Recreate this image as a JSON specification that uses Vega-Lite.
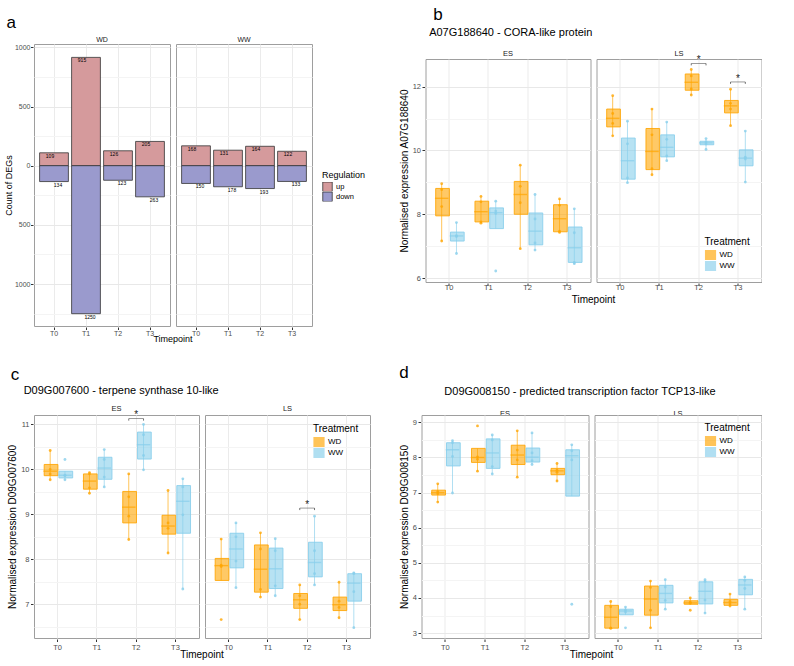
{
"$schema": "https://vega.github.io/schema/vega-lite/v6.json",
"background": "white",
"padding": {"left": 4, "top": 5, "right": 0, "bottom": 0},
"config": {
 "font": "Liberation Sans",
 "view": {"stroke": "#9e9e9e", "strokeWidth": 1},
 "axis": {"labelFontSize": 7.5, "labelColor": "#4d4d4d", "titleFontSize": 10, "titleFontWeight": "normal", "titleColor": "#000000", "tickColor": "#333333", "tickSize": 2.5, "domain": false, "labelPadding": 1.5, "titlePadding": 3, "gridColor": "#ebebeb", "labelOverlap": false},
 "axisX": {"grid": true, "labelAngle": 0},
 "header": {"labelFontSize": 7.5, "labelColor": "#1a1a1a", "labelPadding": 2, "titleFontSize": 10, "titleFontWeight": "normal", "titleColor": "#000000"},
 "legend": {"titleFontWeight": "normal", "titleFontSize": 10, "labelFontSize": 8, "titleColor": "#000000", "labelColor": "#000000", "titlePadding": 3, "labelOffset": 3},
 "title": {"fontWeight": "normal", "anchor": "start", "color": "#000000"}
},
"resolve": {"scale": {"color": "independent", "fill": "independent", "stroke": "independent"}, "legend": {"color": "independent", "fill": "independent", "stroke": "independent"}},
"columns": 2,
"align": {"row": "each", "column": "none"},
"spacing": {"row": 20, "column": 27.5},
"concat": [
 {
  "title": {"text": "a", "fontSize": 17, "offset": 4.5, "dx": 2},
  "hconcat": [{
   "data": {"values": [
    {"Treatment": "WD", "Timepoint": "T0", "Regulation": "up", "count": 109, "label": "109"},
    {"Treatment": "WD", "Timepoint": "T0", "Regulation": "down", "count": -134, "label": "134"},
    {"Treatment": "WD", "Timepoint": "T1", "Regulation": "up", "count": 915, "label": "915"},
    {"Treatment": "WD", "Timepoint": "T1", "Regulation": "down", "count": -1250, "label": "1250"},
    {"Treatment": "WD", "Timepoint": "T2", "Regulation": "up", "count": 126, "label": "126"},
    {"Treatment": "WD", "Timepoint": "T2", "Regulation": "down", "count": -123, "label": "123"},
    {"Treatment": "WD", "Timepoint": "T3", "Regulation": "up", "count": 205, "label": "205"},
    {"Treatment": "WD", "Timepoint": "T3", "Regulation": "down", "count": -263, "label": "263"},
    {"Treatment": "WW", "Timepoint": "T0", "Regulation": "up", "count": 168, "label": "168"},
    {"Treatment": "WW", "Timepoint": "T0", "Regulation": "down", "count": -150, "label": "150"},
    {"Treatment": "WW", "Timepoint": "T1", "Regulation": "up", "count": 131, "label": "131"},
    {"Treatment": "WW", "Timepoint": "T1", "Regulation": "down", "count": -178, "label": "178"},
    {"Treatment": "WW", "Timepoint": "T2", "Regulation": "up", "count": 164, "label": "164"},
    {"Treatment": "WW", "Timepoint": "T2", "Regulation": "down", "count": -193, "label": "193"},
    {"Treatment": "WW", "Timepoint": "T3", "Regulation": "up", "count": 122, "label": "122"},
    {"Treatment": "WW", "Timepoint": "T3", "Regulation": "down", "count": -133, "label": "133"}
   ]},
   "facet": {"column": {"field": "Treatment", "type": "nominal", "title": "Timepoint", "header": {"titleOrient": "bottom", "labelOrient": "top", "titleFontSize": 9, "labelFontSize": 7, "titlePadding": -12, "labelPadding": 0}}},
   "spacing": 4,
   "spec": {
    "width": 136, "height": 282,
    "layer": [
     {"mark": {"type": "bar", "stroke": "#333333", "strokeWidth": 0.8},
      "encoding": {
       "x": {"field": "Timepoint", "type": "nominal", "scale": {"paddingInner": 0.1, "paddingOuter": 0.175}, "axis": {"title": null, "labelFontSize": 7, "labelPadding": 0}},
       "y": {"field": "count", "type": "quantitative", "scale": {"domain": [-1354, 1028], "nice": false}, "axis": {"title": "Count of DEGs", "titleFontSize": 9, "labelFontSize": 7, "titlePadding": 1, "labelPadding": 0.5, "labelOverlap": false, "tickCount": 100, "values": [-1250, -1000, -750, -500, -250, 0, 250, 500, 750, 1000], "labelExpr": "datum.value % 500 === 0 ? format(abs(datum.value), 'd') : ''", "gridColor": {"condition": {"test": "datum.value % 500 !== 0", "value": "#f4f4f4"}, "value": "#e8e8e8"}, "tickColor": {"condition": {"test": "datum.value % 500 !== 0", "value": "transparent"}, "value": "#333333"}}},
       "y2": {"datum": 0},
       "color": {"field": "Regulation", "type": "nominal", "scale": {"domain": ["up", "down"], "range": ["#d59a9c", "#9a9acd"]}, "legend": {"title": "Regulation", "orient": "none", "legendX": 288, "legendY": 127, "titleFontSize": 9, "labelFontSize": 7.5, "symbolType": "square", "symbolSize": 90, "clipHeight": 9.5, "symbolStrokeColor": "#333333", "symbolStrokeWidth": 0.8, "rowPadding": 0, "titlePadding": 2}}
      }},
     {"transform": [{"filter": "datum.Regulation == 'up'"}],
      "mark": {"type": "text", "fontSize": 5, "dx": -4, "baseline": "top", "dy": 1, "color": "#000000"},
      "encoding": {
       "x": {"field": "Timepoint", "type": "nominal"},
       "y": {"field": "count", "type": "quantitative"},
       "text": {"field": "label"}
      }},
     {"transform": [{"filter": "datum.Regulation == 'down'"}],
      "mark": {"type": "text", "fontSize": 5, "dx": 4, "baseline": "top", "dy": 1, "color": "#000000"},
      "encoding": {
       "x": {"field": "Timepoint", "type": "nominal"},
       "y": {"field": "count", "type": "quantitative"},
       "text": {"field": "label"}
      }}
    ]
   }
  }]
 },
 {
  "title": {"text": "b", "fontSize": 17, "offset": 3.5, "dx": 34},
  "hconcat": [{
   "title": {"text": "A07G188640 - CORA-like protein", "fontSize": 11, "offset": 0.5, "dx": 30},
   "spacing": 0,
   "vconcat": [
    {"data": {"values": [{"z": 0}]}, "width": 10, "height": 1, "mark": {"type": "text", "text": ""}, "encoding": {}, "view": {"stroke": null}},
    {
   "data": {"values": [
    {"kind": "box", "Stage": "ES", "Timepoint": "T0", "Treatment": "WD", "lower": 7.16, "q1": 7.95, "median": 8.5, "q3": 8.81, "upper": 8.96},
    {"kind": "box", "Stage": "ES", "Timepoint": "T0", "Treatment": "WW", "lower": 6.77, "q1": 7.16, "median": 7.32, "q3": 7.44, "upper": 7.74},
    {"kind": "box", "Stage": "ES", "Timepoint": "T1", "Treatment": "WD", "lower": 7.72, "q1": 7.76, "median": 8.08, "q3": 8.41, "upper": 8.56},
    {"kind": "box", "Stage": "ES", "Timepoint": "T1", "Treatment": "WW", "lower": 7.55, "q1": 7.55, "median": 8.05, "q3": 8.2, "upper": 8.41},
    {"kind": "box", "Stage": "ES", "Timepoint": "T2", "Treatment": "WD", "lower": 6.92, "q1": 8.0, "median": 8.62, "q3": 9.03, "upper": 9.54},
    {"kind": "box", "Stage": "ES", "Timepoint": "T2", "Treatment": "WW", "lower": 6.875, "q1": 7.04, "median": 7.47, "q3": 8.04, "upper": 8.62},
    {"kind": "box", "Stage": "ES", "Timepoint": "T3", "Treatment": "WD", "lower": 7.43, "q1": 7.45, "median": 7.86, "q3": 8.3, "upper": 8.48},
    {"kind": "box", "Stage": "ES", "Timepoint": "T3", "Treatment": "WW", "lower": 6.45, "q1": 6.49, "median": 6.95, "q3": 7.6, "upper": 8.17},
    {"kind": "box", "Stage": "LS", "Timepoint": "T0", "Treatment": "WD", "lower": 10.46, "q1": 10.74, "median": 11.01, "q3": 11.3, "upper": 11.72},
    {"kind": "box", "Stage": "LS", "Timepoint": "T0", "Treatment": "WW", "lower": 8.99, "q1": 9.1, "median": 9.68, "q3": 10.39, "upper": 10.92},
    {"kind": "box", "Stage": "LS", "Timepoint": "T1", "Treatment": "WD", "lower": 9.24, "q1": 9.4, "median": 9.97, "q3": 10.69, "upper": 11.3},
    {"kind": "box", "Stage": "LS", "Timepoint": "T1", "Treatment": "WW", "lower": 9.68, "q1": 9.8, "median": 10.1, "q3": 10.49, "upper": 10.89},
    {"kind": "box", "Stage": "LS", "Timepoint": "T2", "Treatment": "WD", "lower": 11.74, "q1": 11.89, "median": 12.14, "q3": 12.4, "upper": 12.54},
    {"kind": "box", "Stage": "LS", "Timepoint": "T2", "Treatment": "WW", "lower": 10.03, "q1": 10.18, "median": 10.24, "q3": 10.29, "upper": 10.375},
    {"kind": "box", "Stage": "LS", "Timepoint": "T3", "Treatment": "WD", "lower": 10.78, "q1": 11.18, "median": 11.4, "q3": 11.57, "upper": 11.92},
    {"kind": "box", "Stage": "LS", "Timepoint": "T3", "Treatment": "WW", "lower": 9.01, "q1": 9.52, "median": 9.76, "q3": 10.02, "upper": 10.61},
    {"kind": "pt", "Stage": "ES", "Timepoint": "T0", "Treatment": "WD", "value": 8.96},
    {"kind": "pt", "Stage": "ES", "Timepoint": "T0", "Treatment": "WD", "value": 8.77},
    {"kind": "pt", "Stage": "ES", "Timepoint": "T0", "Treatment": "WD", "value": 8.24},
    {"kind": "pt", "Stage": "ES", "Timepoint": "T0", "Treatment": "WD", "value": 7.16},
    {"kind": "pt", "Stage": "ES", "Timepoint": "T0", "Treatment": "WW", "value": 7.74},
    {"kind": "pt", "Stage": "ES", "Timepoint": "T0", "Treatment": "WW", "value": 7.33},
    {"kind": "pt", "Stage": "ES", "Timepoint": "T0", "Treatment": "WW", "value": 7.3},
    {"kind": "pt", "Stage": "ES", "Timepoint": "T0", "Treatment": "WW", "value": 6.77},
    {"kind": "pt", "Stage": "ES", "Timepoint": "T1", "Treatment": "WD", "value": 8.56},
    {"kind": "pt", "Stage": "ES", "Timepoint": "T1", "Treatment": "WD", "value": 8.39},
    {"kind": "pt", "Stage": "ES", "Timepoint": "T1", "Treatment": "WD", "value": 7.76},
    {"kind": "pt", "Stage": "ES", "Timepoint": "T1", "Treatment": "WD", "value": 7.72},
    {"kind": "pt", "Stage": "ES", "Timepoint": "T1", "Treatment": "WW", "value": 8.41},
    {"kind": "pt", "Stage": "ES", "Timepoint": "T1", "Treatment": "WW", "value": 8.1},
    {"kind": "pt", "Stage": "ES", "Timepoint": "T1", "Treatment": "WW", "value": 8.02},
    {"kind": "pt", "Stage": "ES", "Timepoint": "T1", "Treatment": "WW", "value": 6.22},
    {"kind": "pt", "Stage": "ES", "Timepoint": "T2", "Treatment": "WD", "value": 9.54},
    {"kind": "pt", "Stage": "ES", "Timepoint": "T2", "Treatment": "WD", "value": 8.875},
    {"kind": "pt", "Stage": "ES", "Timepoint": "T2", "Treatment": "WD", "value": 8.36},
    {"kind": "pt", "Stage": "ES", "Timepoint": "T2", "Treatment": "WD", "value": 6.92},
    {"kind": "pt", "Stage": "ES", "Timepoint": "T2", "Treatment": "WW", "value": 8.62},
    {"kind": "pt", "Stage": "ES", "Timepoint": "T2", "Treatment": "WW", "value": 7.85},
    {"kind": "pt", "Stage": "ES", "Timepoint": "T2", "Treatment": "WW", "value": 7.1},
    {"kind": "pt", "Stage": "ES", "Timepoint": "T2", "Treatment": "WW", "value": 6.875},
    {"kind": "pt", "Stage": "ES", "Timepoint": "T3", "Treatment": "WD", "value": 8.48},
    {"kind": "pt", "Stage": "ES", "Timepoint": "T3", "Treatment": "WD", "value": 8.28},
    {"kind": "pt", "Stage": "ES", "Timepoint": "T3", "Treatment": "WD", "value": 7.47},
    {"kind": "pt", "Stage": "ES", "Timepoint": "T3", "Treatment": "WD", "value": 7.43},
    {"kind": "pt", "Stage": "ES", "Timepoint": "T3", "Treatment": "WW", "value": 8.17},
    {"kind": "pt", "Stage": "ES", "Timepoint": "T3", "Treatment": "WW", "value": 7.42},
    {"kind": "pt", "Stage": "ES", "Timepoint": "T3", "Treatment": "WW", "value": 6.49},
    {"kind": "pt", "Stage": "ES", "Timepoint": "T3", "Treatment": "WW", "value": 6.45},
    {"kind": "pt", "Stage": "LS", "Timepoint": "T0", "Treatment": "WD", "value": 11.72},
    {"kind": "pt", "Stage": "LS", "Timepoint": "T0", "Treatment": "WD", "value": 11.16},
    {"kind": "pt", "Stage": "LS", "Timepoint": "T0", "Treatment": "WD", "value": 10.85},
    {"kind": "pt", "Stage": "LS", "Timepoint": "T0", "Treatment": "WD", "value": 10.46},
    {"kind": "pt", "Stage": "LS", "Timepoint": "T0", "Treatment": "WW", "value": 10.92},
    {"kind": "pt", "Stage": "LS", "Timepoint": "T0", "Treatment": "WW", "value": 10.21},
    {"kind": "pt", "Stage": "LS", "Timepoint": "T0", "Treatment": "WW", "value": 9.14},
    {"kind": "pt", "Stage": "LS", "Timepoint": "T0", "Treatment": "WW", "value": 8.99},
    {"kind": "pt", "Stage": "LS", "Timepoint": "T1", "Treatment": "WD", "value": 11.3},
    {"kind": "pt", "Stage": "LS", "Timepoint": "T1", "Treatment": "WD", "value": 10.49},
    {"kind": "pt", "Stage": "LS", "Timepoint": "T1", "Treatment": "WD", "value": 9.43},
    {"kind": "pt", "Stage": "LS", "Timepoint": "T1", "Treatment": "WD", "value": 9.24},
    {"kind": "pt", "Stage": "LS", "Timepoint": "T1", "Treatment": "WW", "value": 10.89},
    {"kind": "pt", "Stage": "LS", "Timepoint": "T1", "Treatment": "WW", "value": 10.35},
    {"kind": "pt", "Stage": "LS", "Timepoint": "T1", "Treatment": "WW", "value": 9.83},
    {"kind": "pt", "Stage": "LS", "Timepoint": "T1", "Treatment": "WW", "value": 9.68},
    {"kind": "pt", "Stage": "LS", "Timepoint": "T2", "Treatment": "WD", "value": 12.54},
    {"kind": "pt", "Stage": "LS", "Timepoint": "T2", "Treatment": "WD", "value": 12.34},
    {"kind": "pt", "Stage": "LS", "Timepoint": "T2", "Treatment": "WD", "value": 11.93},
    {"kind": "pt", "Stage": "LS", "Timepoint": "T2", "Treatment": "WD", "value": 11.74},
    {"kind": "pt", "Stage": "LS", "Timepoint": "T2", "Treatment": "WW", "value": 10.375},
    {"kind": "pt", "Stage": "LS", "Timepoint": "T2", "Treatment": "WW", "value": 10.27},
    {"kind": "pt", "Stage": "LS", "Timepoint": "T2", "Treatment": "WW", "value": 10.2},
    {"kind": "pt", "Stage": "LS", "Timepoint": "T2", "Treatment": "WW", "value": 10.03},
    {"kind": "pt", "Stage": "LS", "Timepoint": "T3", "Treatment": "WD", "value": 11.92},
    {"kind": "pt", "Stage": "LS", "Timepoint": "T3", "Treatment": "WD", "value": 11.48},
    {"kind": "pt", "Stage": "LS", "Timepoint": "T3", "Treatment": "WD", "value": 11.3},
    {"kind": "pt", "Stage": "LS", "Timepoint": "T3", "Treatment": "WD", "value": 10.78},
    {"kind": "pt", "Stage": "LS", "Timepoint": "T3", "Treatment": "WW", "value": 10.61},
    {"kind": "pt", "Stage": "LS", "Timepoint": "T3", "Treatment": "WW", "value": 9.79},
    {"kind": "pt", "Stage": "LS", "Timepoint": "T3", "Treatment": "WW", "value": 9.73},
    {"kind": "pt", "Stage": "LS", "Timepoint": "T3", "Treatment": "WW", "value": 9.01},
    {"kind": "sig", "Stage": "LS", "Timepoint": "T2", "y": 12.73, "star": 12.83},
    {"kind": "sig", "Stage": "LS", "Timepoint": "T3", "y": 12.15, "star": 12.25},
    {"kind": "sigend", "Stage": "LS", "Timepoint": "T2", "Treatment": "WD", "y": 12.73, "y2": 12.67},
    {"kind": "sigend", "Stage": "LS", "Timepoint": "T2", "Treatment": "WW", "y": 12.73, "y2": 12.67},
    {"kind": "sigend", "Stage": "LS", "Timepoint": "T3", "Treatment": "WD", "y": 12.15, "y2": 12.09},
    {"kind": "sigend", "Stage": "LS", "Timepoint": "T3", "Treatment": "WW", "y": 12.15, "y2": 12.09}
   ]},
   "facet": {"column": {"field": "Stage", "type": "nominal", "title": "Timepoint", "header": {"titleOrient": "bottom", "labelOrient": "top", "titlePadding": -6.5, "labelPadding": -3.5}}},
   "spacing": 4,
   "spec": {
    "width": 165, "height": 223,
    "encoding": {"x": {"field": "Timepoint", "type": "nominal", "scale": {"paddingInner": 0, "paddingOuter": 0.1}, "axis": {"title": null, "labelPadding": -2}}},
    "layer": [
     {"transform": [{"filter": "datum.kind == 'box'"}],
      "mark": {"type": "rule", "strokeWidth": 1, "opacity": 0.65},
      "encoding": {
       "xOffset": {"field": "Treatment", "type": "nominal", "scale": {"paddingInner": 0, "paddingOuter": 0.33}},
       "y": {"field": "lower", "type": "quantitative", "title": "Normalised expression A07G188640", "scale": {"domain": [5.875, 12.87], "nice": false, "zero": false}, "axis": {"labelOverlap": false, "tickCount": 100, "values": [6, 7, 8, 9, 10, 11, 12], "labelExpr": "datum.value % 2 === 0 ? format(datum.value, 'd') : ''", "gridColor": {"condition": {"test": "datum.value % 2 !== 0", "value": "#f4f4f4"}, "value": "#e8e8e8"}, "tickColor": {"condition": {"test": "datum.value % 2 !== 0", "value": "transparent"}, "value": "#333333"}}},
       "y2": {"field": "upper"},
       "stroke": {"field": "Treatment", "type": "nominal", "scale": {"domain": ["WD", "WW"], "range": ["#FFA500", "#87CEEB"]}}
      }},
     {"transform": [{"filter": "datum.kind == 'box'"}],
      "mark": {"type": "bar", "fillOpacity": 0.6, "strokeWidth": 1, "strokeOpacity": 0.85, "width": {"band": 0.93}},
      "encoding": {
       "xOffset": {"field": "Treatment", "type": "nominal"},
       "y": {"field": "q1", "type": "quantitative", "title": "Normalised expression A07G188640", "scale": {"domain": [5.875, 12.87], "nice": false, "zero": false}},
       "y2": {"field": "q3"},
       "fill": {"field": "Treatment", "type": "nominal", "scale": {"domain": ["WD", "WW"], "range": ["#FFA500", "#87CEEB"]}, "legend": {"title": "Treatment", "orient": "none", "legendX": 279, "legendY": 193, "symbolType": "square", "symbolSize": 100, "clipHeight": 10, "symbolStrokeWidth": 1.2, "rowPadding": 1}},
       "stroke": {"field": "Treatment", "type": "nominal", "legend": {"title": "Treatment", "orient": "none", "legendX": 279, "legendY": 193, "symbolType": "square", "symbolSize": 100, "clipHeight": 10, "symbolStrokeWidth": 1.2, "rowPadding": 1}}
      }},
     {"transform": [{"filter": "datum.kind == 'box'"}],
      "mark": {"type": "tick", "orient": "horizontal", "size": 13.5, "thickness": 1.4},
      "encoding": {
       "xOffset": {"field": "Treatment", "type": "nominal"},
       "y": {"field": "median", "type": "quantitative", "title": "Normalised expression A07G188640", "scale": {"domain": [5.875, 12.87], "nice": false, "zero": false}},
       "fill": {"field": "Treatment", "type": "nominal"}
      }},
     {"transform": [{"filter": "datum.kind == 'pt'"}],
      "mark": {"type": "circle", "size": 8, "opacity": 0.8},
      "encoding": {
       "xOffset": {"field": "Treatment", "type": "nominal"},
       "y": {"field": "value", "type": "quantitative", "title": "Normalised expression A07G188640", "scale": {"domain": [5.875, 12.87], "nice": false, "zero": false}},
       "fill": {"field": "Treatment", "type": "nominal"}
      }},
     {"transform": [{"filter": "datum.kind == 'sig'"}],
      "mark": {"type": "tick", "orient": "horizontal", "size": 14.6, "thickness": 0.7, "color": "#333333"},
      "encoding": {
       "y": {"field": "y", "type": "quantitative", "title": "Normalised expression A07G188640", "scale": {"domain": [5.875, 12.87], "nice": false, "zero": false}}
      }},
     {"transform": [{"filter": "datum.kind == 'sigend'"}],
      "mark": {"type": "rule", "strokeWidth": 0.7, "color": "#333333"},
      "encoding": {
       "xOffset": {"field": "Treatment", "type": "nominal"},
       "y": {"field": "y", "type": "quantitative", "title": "Normalised expression A07G188640", "scale": {"domain": [5.875, 12.87], "nice": false, "zero": false}},
       "y2": {"field": "y2"}
      }},
     {"transform": [{"filter": "datum.kind == 'sig'"}],
      "mark": {"type": "text", "text": "*", "fontSize": 10, "baseline": "middle", "color": "#222222"},
      "encoding": {
       "y": {"field": "star", "type": "quantitative", "title": "Normalised expression A07G188640", "scale": {"domain": [5.875, 12.87], "nice": false, "zero": false}}
      }}
    ]
   }
  }
   ]
  }]
 },
 {
  "title": {"text": "c", "fontSize": 17, "offset": 1, "dx": 3},
  "hconcat": [{
   "title": {"text": "D09G007600 - terpene synthase 10-like", "fontSize": 11, "offset": 9, "dx": 16},
   "data": {"values": [
    {"kind": "box", "Stage": "ES", "Timepoint": "T0", "Treatment": "WD", "lower": 9.77, "q1": 9.86, "median": 9.96, "q3": 10.11, "upper": 10.42},
    {"kind": "box", "Stage": "ES", "Timepoint": "T0", "Treatment": "WW", "lower": 9.77, "q1": 9.81, "median": 9.87, "q3": 9.96, "upper": 9.96},
    {"kind": "box", "Stage": "ES", "Timepoint": "T1", "Treatment": "WD", "lower": 9.47, "q1": 9.56, "median": 9.74, "q3": 9.9, "upper": 9.93},
    {"kind": "box", "Stage": "ES", "Timepoint": "T1", "Treatment": "WW", "lower": 9.61, "q1": 9.78, "median": 10.03, "q3": 10.27, "upper": 10.44},
    {"kind": "box", "Stage": "ES", "Timepoint": "T2", "Treatment": "WD", "lower": 8.44, "q1": 8.81, "median": 9.16, "q3": 9.51, "upper": 9.9},
    {"kind": "box", "Stage": "ES", "Timepoint": "T2", "Treatment": "WW", "lower": 9.99, "q1": 10.23, "median": 10.55, "q3": 10.83, "upper": 11.0},
    {"kind": "box", "Stage": "ES", "Timepoint": "T3", "Treatment": "WD", "lower": 8.14, "q1": 8.56, "median": 8.74, "q3": 8.98, "upper": 9.53},
    {"kind": "box", "Stage": "ES", "Timepoint": "T3", "Treatment": "WW", "lower": 7.34, "q1": 8.58, "median": 9.29, "q3": 9.64, "upper": 9.79},
    {"kind": "box", "Stage": "LS", "Timepoint": "T0", "Treatment": "WD", "lower": 7.53, "q1": 7.53, "median": 7.86, "q3": 8.02, "upper": 8.45},
    {"kind": "box", "Stage": "LS", "Timepoint": "T0", "Treatment": "WW", "lower": 7.37, "q1": 7.81, "median": 8.23, "q3": 8.58, "upper": 8.81},
    {"kind": "box", "Stage": "LS", "Timepoint": "T1", "Treatment": "WD", "lower": 7.16, "q1": 7.27, "median": 7.78, "q3": 8.32, "upper": 8.59},
    {"kind": "box", "Stage": "LS", "Timepoint": "T1", "Treatment": "WW", "lower": 7.19, "q1": 7.35, "median": 7.79, "q3": 8.25, "upper": 8.46},
    {"kind": "box", "Stage": "LS", "Timepoint": "T2", "Treatment": "WD", "lower": 6.66, "q1": 6.91, "median": 7.1, "q3": 7.24, "upper": 7.43},
    {"kind": "box", "Stage": "LS", "Timepoint": "T2", "Treatment": "WW", "lower": 7.43, "q1": 7.61, "median": 7.93, "q3": 8.38, "upper": 8.96},
    {"kind": "box", "Stage": "LS", "Timepoint": "T3", "Treatment": "WD", "lower": 6.7, "q1": 6.86, "median": 6.99, "q3": 7.16, "upper": 7.49},
    {"kind": "box", "Stage": "LS", "Timepoint": "T3", "Treatment": "WW", "lower": 6.48, "q1": 7.07, "median": 7.47, "q3": 7.68, "upper": 7.7},
    {"kind": "pt", "Stage": "ES", "Timepoint": "T0", "Treatment": "WD", "value": 10.42},
    {"kind": "pt", "Stage": "ES", "Timepoint": "T0", "Treatment": "WD", "value": 10.0},
    {"kind": "pt", "Stage": "ES", "Timepoint": "T0", "Treatment": "WD", "value": 9.9},
    {"kind": "pt", "Stage": "ES", "Timepoint": "T0", "Treatment": "WD", "value": 9.77},
    {"kind": "pt", "Stage": "ES", "Timepoint": "T0", "Treatment": "WW", "value": 10.22},
    {"kind": "pt", "Stage": "ES", "Timepoint": "T0", "Treatment": "WW", "value": 9.87},
    {"kind": "pt", "Stage": "ES", "Timepoint": "T0", "Treatment": "WW", "value": 9.86},
    {"kind": "pt", "Stage": "ES", "Timepoint": "T0", "Treatment": "WW", "value": 9.77},
    {"kind": "pt", "Stage": "ES", "Timepoint": "T1", "Treatment": "WD", "value": 9.93},
    {"kind": "pt", "Stage": "ES", "Timepoint": "T1", "Treatment": "WD", "value": 9.9},
    {"kind": "pt", "Stage": "ES", "Timepoint": "T1", "Treatment": "WD", "value": 9.59},
    {"kind": "pt", "Stage": "ES", "Timepoint": "T1", "Treatment": "WD", "value": 9.47},
    {"kind": "pt", "Stage": "ES", "Timepoint": "T1", "Treatment": "WW", "value": 10.44},
    {"kind": "pt", "Stage": "ES", "Timepoint": "T1", "Treatment": "WW", "value": 10.22},
    {"kind": "pt", "Stage": "ES", "Timepoint": "T1", "Treatment": "WW", "value": 9.83},
    {"kind": "pt", "Stage": "ES", "Timepoint": "T1", "Treatment": "WW", "value": 9.61},
    {"kind": "pt", "Stage": "ES", "Timepoint": "T2", "Treatment": "WD", "value": 9.9},
    {"kind": "pt", "Stage": "ES", "Timepoint": "T2", "Treatment": "WD", "value": 9.39},
    {"kind": "pt", "Stage": "ES", "Timepoint": "T2", "Treatment": "WD", "value": 8.96},
    {"kind": "pt", "Stage": "ES", "Timepoint": "T2", "Treatment": "WD", "value": 8.44},
    {"kind": "pt", "Stage": "ES", "Timepoint": "T2", "Treatment": "WW", "value": 11.0},
    {"kind": "pt", "Stage": "ES", "Timepoint": "T2", "Treatment": "WW", "value": 10.77},
    {"kind": "pt", "Stage": "ES", "Timepoint": "T2", "Treatment": "WW", "value": 10.31},
    {"kind": "pt", "Stage": "ES", "Timepoint": "T2", "Treatment": "WW", "value": 9.99},
    {"kind": "pt", "Stage": "ES", "Timepoint": "T3", "Treatment": "WD", "value": 9.53},
    {"kind": "pt", "Stage": "ES", "Timepoint": "T3", "Treatment": "WD", "value": 8.81},
    {"kind": "pt", "Stage": "ES", "Timepoint": "T3", "Treatment": "WD", "value": 8.69},
    {"kind": "pt", "Stage": "ES", "Timepoint": "T3", "Treatment": "WD", "value": 8.14},
    {"kind": "pt", "Stage": "ES", "Timepoint": "T3", "Treatment": "WW", "value": 9.79},
    {"kind": "pt", "Stage": "ES", "Timepoint": "T3", "Treatment": "WW", "value": 9.61},
    {"kind": "pt", "Stage": "ES", "Timepoint": "T3", "Treatment": "WW", "value": 8.99},
    {"kind": "pt", "Stage": "ES", "Timepoint": "T3", "Treatment": "WW", "value": 7.34},
    {"kind": "pt", "Stage": "LS", "Timepoint": "T0", "Treatment": "WD", "value": 8.45},
    {"kind": "pt", "Stage": "LS", "Timepoint": "T0", "Treatment": "WD", "value": 7.87},
    {"kind": "pt", "Stage": "LS", "Timepoint": "T0", "Treatment": "WD", "value": 7.84},
    {"kind": "pt", "Stage": "LS", "Timepoint": "T0", "Treatment": "WD", "value": 6.66},
    {"kind": "pt", "Stage": "LS", "Timepoint": "T0", "Treatment": "WW", "value": 8.81},
    {"kind": "pt", "Stage": "LS", "Timepoint": "T0", "Treatment": "WW", "value": 8.5},
    {"kind": "pt", "Stage": "LS", "Timepoint": "T0", "Treatment": "WW", "value": 7.96},
    {"kind": "pt", "Stage": "LS", "Timepoint": "T0", "Treatment": "WW", "value": 7.37},
    {"kind": "pt", "Stage": "LS", "Timepoint": "T1", "Treatment": "WD", "value": 8.59},
    {"kind": "pt", "Stage": "LS", "Timepoint": "T1", "Treatment": "WD", "value": 8.23},
    {"kind": "pt", "Stage": "LS", "Timepoint": "T1", "Treatment": "WD", "value": 7.33},
    {"kind": "pt", "Stage": "LS", "Timepoint": "T1", "Treatment": "WD", "value": 7.16},
    {"kind": "pt", "Stage": "LS", "Timepoint": "T1", "Treatment": "WW", "value": 8.46},
    {"kind": "pt", "Stage": "LS", "Timepoint": "T1", "Treatment": "WW", "value": 8.19},
    {"kind": "pt", "Stage": "LS", "Timepoint": "T1", "Treatment": "WW", "value": 7.41},
    {"kind": "pt", "Stage": "LS", "Timepoint": "T1", "Treatment": "WW", "value": 7.19},
    {"kind": "pt", "Stage": "LS", "Timepoint": "T2", "Treatment": "WD", "value": 7.43},
    {"kind": "pt", "Stage": "LS", "Timepoint": "T2", "Treatment": "WD", "value": 7.19},
    {"kind": "pt", "Stage": "LS", "Timepoint": "T2", "Treatment": "WD", "value": 7.0},
    {"kind": "pt", "Stage": "LS", "Timepoint": "T2", "Treatment": "WD", "value": 6.66},
    {"kind": "pt", "Stage": "LS", "Timepoint": "T2", "Treatment": "WW", "value": 8.96},
    {"kind": "pt", "Stage": "LS", "Timepoint": "T2", "Treatment": "WW", "value": 8.19},
    {"kind": "pt", "Stage": "LS", "Timepoint": "T2", "Treatment": "WW", "value": 7.68},
    {"kind": "pt", "Stage": "LS", "Timepoint": "T2", "Treatment": "WW", "value": 7.43},
    {"kind": "pt", "Stage": "LS", "Timepoint": "T3", "Treatment": "WD", "value": 7.49},
    {"kind": "pt", "Stage": "LS", "Timepoint": "T3", "Treatment": "WD", "value": 7.07},
    {"kind": "pt", "Stage": "LS", "Timepoint": "T3", "Treatment": "WD", "value": 6.93},
    {"kind": "pt", "Stage": "LS", "Timepoint": "T3", "Treatment": "WD", "value": 6.7},
    {"kind": "pt", "Stage": "LS", "Timepoint": "T3", "Treatment": "WW", "value": 7.7},
    {"kind": "pt", "Stage": "LS", "Timepoint": "T3", "Treatment": "WW", "value": 7.68},
    {"kind": "pt", "Stage": "LS", "Timepoint": "T3", "Treatment": "WW", "value": 7.28},
    {"kind": "pt", "Stage": "LS", "Timepoint": "T3", "Treatment": "WW", "value": 6.48},
    {"kind": "sig", "Stage": "ES", "Timepoint": "T2", "y": 11.13, "star": 11.2},
    {"kind": "sig", "Stage": "LS", "Timepoint": "T2", "y": 9.14, "star": 9.21},
    {"kind": "sigend", "Stage": "ES", "Timepoint": "T2", "Treatment": "WD", "y": 11.13, "y2": 11.085},
    {"kind": "sigend", "Stage": "ES", "Timepoint": "T2", "Treatment": "WW", "y": 11.13, "y2": 11.085},
    {"kind": "sigend", "Stage": "LS", "Timepoint": "T2", "Treatment": "WD", "y": 9.14, "y2": 9.095},
    {"kind": "sigend", "Stage": "LS", "Timepoint": "T2", "Treatment": "WW", "y": 9.14, "y2": 9.095}
   ]},
   "facet": {"column": {"field": "Stage", "type": "nominal", "title": "Timepoint", "header": {"titleOrient": "bottom", "labelOrient": "top", "titlePadding": -11, "labelPadding": -3.5}}},
   "spacing": 4,
   "spec": {
    "width": 165, "height": 223,
    "encoding": {"x": {"field": "Timepoint", "type": "nominal", "scale": {"paddingInner": 0, "paddingOuter": 0.1}, "axis": {"title": null}}},
    "layer": [
     {"transform": [{"filter": "datum.kind == 'box'"}],
      "mark": {"type": "rule", "strokeWidth": 1, "opacity": 0.65},
      "encoding": {
       "xOffset": {"field": "Treatment", "type": "nominal", "scale": {"paddingInner": 0, "paddingOuter": 0.33}},
       "y": {"field": "lower", "type": "quantitative", "title": "Normalised expression D09G007600", "scale": {"domain": [6.25, 11.21], "nice": false, "zero": false}, "axis": {"labelOverlap": false, "tickCount": 100, "values": [6.5, 7, 7.5, 8, 8.5, 9, 9.5, 10, 10.5, 11], "labelExpr": "datum.value % 1 === 0 ? format(datum.value, 'd') : ''", "gridColor": {"condition": {"test": "datum.value % 1 !== 0", "value": "#f4f4f4"}, "value": "#e8e8e8"}, "tickColor": {"condition": {"test": "datum.value % 1 !== 0", "value": "transparent"}, "value": "#333333"}}},
       "y2": {"field": "upper"},
       "stroke": {"field": "Treatment", "type": "nominal", "scale": {"domain": ["WD", "WW"], "range": ["#FFA500", "#87CEEB"]}}
      }},
     {"transform": [{"filter": "datum.kind == 'box'"}],
      "mark": {"type": "bar", "fillOpacity": 0.6, "strokeWidth": 1, "strokeOpacity": 0.85, "width": {"band": 0.93}},
      "encoding": {
       "xOffset": {"field": "Treatment", "type": "nominal"},
       "y": {"field": "q1", "type": "quantitative", "title": "Normalised expression D09G007600", "scale": {"domain": [6.25, 11.21], "nice": false, "zero": false}},
       "y2": {"field": "q3"},
       "fill": {"field": "Treatment", "type": "nominal", "scale": {"domain": ["WD", "WW"], "range": ["#FFA500", "#87CEEB"]}, "legend": {"title": "Treatment", "orient": "none", "legendX": 279, "legendY": 9, "symbolType": "square", "symbolSize": 100, "clipHeight": 10, "symbolStrokeWidth": 1.2, "rowPadding": 1}},
       "stroke": {"field": "Treatment", "type": "nominal", "legend": {"title": "Treatment", "orient": "none", "legendX": 279, "legendY": 9, "symbolType": "square", "symbolSize": 100, "clipHeight": 10, "symbolStrokeWidth": 1.2, "rowPadding": 1}}
      }},
     {"transform": [{"filter": "datum.kind == 'box'"}],
      "mark": {"type": "tick", "orient": "horizontal", "size": 13.5, "thickness": 1.4},
      "encoding": {
       "xOffset": {"field": "Treatment", "type": "nominal"},
       "y": {"field": "median", "type": "quantitative", "title": "Normalised expression D09G007600", "scale": {"domain": [6.25, 11.21], "nice": false, "zero": false}},
       "fill": {"field": "Treatment", "type": "nominal"}
      }},
     {"transform": [{"filter": "datum.kind == 'pt'"}],
      "mark": {"type": "circle", "size": 8, "opacity": 0.8},
      "encoding": {
       "xOffset": {"field": "Treatment", "type": "nominal"},
       "y": {"field": "value", "type": "quantitative", "title": "Normalised expression D09G007600", "scale": {"domain": [6.25, 11.21], "nice": false, "zero": false}},
       "fill": {"field": "Treatment", "type": "nominal"}
      }},
     {"transform": [{"filter": "datum.kind == 'sig'"}],
      "mark": {"type": "tick", "orient": "horizontal", "size": 14.6, "thickness": 0.7, "color": "#333333"},
      "encoding": {
       "y": {"field": "y", "type": "quantitative", "title": "Normalised expression D09G007600", "scale": {"domain": [6.25, 11.21], "nice": false, "zero": false}}
      }},
     {"transform": [{"filter": "datum.kind == 'sigend'"}],
      "mark": {"type": "rule", "strokeWidth": 0.7, "color": "#333333"},
      "encoding": {
       "xOffset": {"field": "Treatment", "type": "nominal"},
       "y": {"field": "y", "type": "quantitative", "title": "Normalised expression D09G007600", "scale": {"domain": [6.25, 11.21], "nice": false, "zero": false}},
       "y2": {"field": "y2"}
      }},
     {"transform": [{"filter": "datum.kind == 'sig'"}],
      "mark": {"type": "text", "text": "*", "fontSize": 10, "baseline": "middle", "color": "#222222"},
      "encoding": {
       "y": {"field": "star", "type": "quantitative", "title": "Normalised expression D09G007600", "scale": {"domain": [6.25, 11.21], "nice": false, "zero": false}}
      }}
    ]
   }
  }]
 },
 {
  "title": {"text": "d", "fontSize": 17, "offset": 4, "dx": 0},
  "hconcat": [{
   "title": {"text": "D09G008150 - predicted transcription factor TCP13-like", "fontSize": 11, "offset": 13, "dx": 45},
   "data": {"values": [
    {"kind": "box", "Stage": "ES", "Timepoint": "T0", "Treatment": "WD", "lower": 6.73, "q1": 6.93, "median": 7.0, "q3": 7.07, "upper": 7.25},
    {"kind": "box", "Stage": "ES", "Timepoint": "T0", "Treatment": "WW", "lower": 6.99, "q1": 7.76, "median": 8.22, "q3": 8.42, "upper": 8.48},
    {"kind": "box", "Stage": "ES", "Timepoint": "T1", "Treatment": "WD", "lower": 7.61, "q1": 7.86, "median": 8.0, "q3": 8.26, "upper": 8.26},
    {"kind": "box", "Stage": "ES", "Timepoint": "T1", "Treatment": "WW", "lower": 7.53, "q1": 7.69, "median": 8.13, "q3": 8.53, "upper": 8.64},
    {"kind": "box", "Stage": "ES", "Timepoint": "T2", "Treatment": "WD", "lower": 7.44, "q1": 7.8, "median": 8.07, "q3": 8.35, "upper": 8.76},
    {"kind": "box", "Stage": "ES", "Timepoint": "T2", "Treatment": "WW", "lower": 7.8, "q1": 7.87, "median": 8.01, "q3": 8.27, "upper": 8.7},
    {"kind": "box", "Stage": "ES", "Timepoint": "T3", "Treatment": "WD", "lower": 7.33, "q1": 7.51, "median": 7.62, "q3": 7.69, "upper": 7.83},
    {"kind": "box", "Stage": "ES", "Timepoint": "T3", "Treatment": "WW", "lower": 6.9, "q1": 6.9, "median": 8.05, "q3": 8.22, "upper": 8.36},
    {"kind": "box", "Stage": "LS", "Timepoint": "T0", "Treatment": "WD", "lower": 3.14, "q1": 3.14, "median": 3.45, "q3": 3.79, "upper": 3.9},
    {"kind": "box", "Stage": "LS", "Timepoint": "T0", "Treatment": "WW", "lower": 3.52, "q1": 3.52, "median": 3.63, "q3": 3.68, "upper": 3.74},
    {"kind": "box", "Stage": "LS", "Timepoint": "T1", "Treatment": "WD", "lower": 3.15, "q1": 3.51, "median": 3.97, "q3": 4.34, "upper": 4.48},
    {"kind": "box", "Stage": "LS", "Timepoint": "T1", "Treatment": "WW", "lower": 3.68, "q1": 3.86, "median": 4.13, "q3": 4.36, "upper": 4.52},
    {"kind": "box", "Stage": "LS", "Timepoint": "T2", "Treatment": "WD", "lower": 3.82, "q1": 3.82, "median": 3.86, "q3": 3.92, "upper": 4.0},
    {"kind": "box", "Stage": "LS", "Timepoint": "T2", "Treatment": "WW", "lower": 3.57, "q1": 3.83, "median": 4.19, "q3": 4.46, "upper": 4.52},
    {"kind": "box", "Stage": "LS", "Timepoint": "T3", "Treatment": "WD", "lower": 3.77, "q1": 3.79, "median": 3.87, "q3": 3.96, "upper": 4.11},
    {"kind": "box", "Stage": "LS", "Timepoint": "T3", "Treatment": "WW", "lower": 3.68, "q1": 4.09, "median": 4.37, "q3": 4.53, "upper": 4.6},
    {"kind": "pt", "Stage": "ES", "Timepoint": "T0", "Treatment": "WD", "value": 7.25},
    {"kind": "pt", "Stage": "ES", "Timepoint": "T0", "Treatment": "WD", "value": 7.03},
    {"kind": "pt", "Stage": "ES", "Timepoint": "T0", "Treatment": "WD", "value": 6.97},
    {"kind": "pt", "Stage": "ES", "Timepoint": "T0", "Treatment": "WD", "value": 6.73},
    {"kind": "pt", "Stage": "ES", "Timepoint": "T0", "Treatment": "WW", "value": 8.48},
    {"kind": "pt", "Stage": "ES", "Timepoint": "T0", "Treatment": "WW", "value": 8.42},
    {"kind": "pt", "Stage": "ES", "Timepoint": "T0", "Treatment": "WW", "value": 8.03},
    {"kind": "pt", "Stage": "ES", "Timepoint": "T0", "Treatment": "WW", "value": 6.99},
    {"kind": "pt", "Stage": "ES", "Timepoint": "T1", "Treatment": "WD", "value": 8.9},
    {"kind": "pt", "Stage": "ES", "Timepoint": "T1", "Treatment": "WD", "value": 8.02},
    {"kind": "pt", "Stage": "ES", "Timepoint": "T1", "Treatment": "WD", "value": 7.95},
    {"kind": "pt", "Stage": "ES", "Timepoint": "T1", "Treatment": "WD", "value": 7.61},
    {"kind": "pt", "Stage": "ES", "Timepoint": "T1", "Treatment": "WW", "value": 8.64},
    {"kind": "pt", "Stage": "ES", "Timepoint": "T1", "Treatment": "WW", "value": 8.5},
    {"kind": "pt", "Stage": "ES", "Timepoint": "T1", "Treatment": "WW", "value": 7.74},
    {"kind": "pt", "Stage": "ES", "Timepoint": "T1", "Treatment": "WW", "value": 7.53},
    {"kind": "pt", "Stage": "ES", "Timepoint": "T2", "Treatment": "WD", "value": 8.76},
    {"kind": "pt", "Stage": "ES", "Timepoint": "T2", "Treatment": "WD", "value": 8.21},
    {"kind": "pt", "Stage": "ES", "Timepoint": "T2", "Treatment": "WD", "value": 7.93},
    {"kind": "pt", "Stage": "ES", "Timepoint": "T2", "Treatment": "WD", "value": 7.44},
    {"kind": "pt", "Stage": "ES", "Timepoint": "T2", "Treatment": "WW", "value": 8.7},
    {"kind": "pt", "Stage": "ES", "Timepoint": "T2", "Treatment": "WW", "value": 8.13},
    {"kind": "pt", "Stage": "ES", "Timepoint": "T2", "Treatment": "WW", "value": 7.91},
    {"kind": "pt", "Stage": "ES", "Timepoint": "T2", "Treatment": "WW", "value": 7.8},
    {"kind": "pt", "Stage": "ES", "Timepoint": "T3", "Treatment": "WD", "value": 7.83},
    {"kind": "pt", "Stage": "ES", "Timepoint": "T3", "Treatment": "WD", "value": 7.64},
    {"kind": "pt", "Stage": "ES", "Timepoint": "T3", "Treatment": "WD", "value": 7.58},
    {"kind": "pt", "Stage": "ES", "Timepoint": "T3", "Treatment": "WD", "value": 7.33},
    {"kind": "pt", "Stage": "ES", "Timepoint": "T3", "Treatment": "WW", "value": 8.36},
    {"kind": "pt", "Stage": "ES", "Timepoint": "T3", "Treatment": "WW", "value": 8.19},
    {"kind": "pt", "Stage": "ES", "Timepoint": "T3", "Treatment": "WW", "value": 7.93},
    {"kind": "pt", "Stage": "ES", "Timepoint": "T3", "Treatment": "WW", "value": 3.82},
    {"kind": "pt", "Stage": "LS", "Timepoint": "T0", "Treatment": "WD", "value": 3.9},
    {"kind": "pt", "Stage": "LS", "Timepoint": "T0", "Treatment": "WD", "value": 3.75},
    {"kind": "pt", "Stage": "LS", "Timepoint": "T0", "Treatment": "WD", "value": 3.14},
    {"kind": "pt", "Stage": "LS", "Timepoint": "T0", "Treatment": "WD", "value": 3.14},
    {"kind": "pt", "Stage": "LS", "Timepoint": "T0", "Treatment": "WW", "value": 3.74},
    {"kind": "pt", "Stage": "LS", "Timepoint": "T0", "Treatment": "WW", "value": 3.66},
    {"kind": "pt", "Stage": "LS", "Timepoint": "T0", "Treatment": "WW", "value": 3.6},
    {"kind": "pt", "Stage": "LS", "Timepoint": "T0", "Treatment": "WW", "value": 3.15},
    {"kind": "pt", "Stage": "LS", "Timepoint": "T1", "Treatment": "WD", "value": 4.48},
    {"kind": "pt", "Stage": "LS", "Timepoint": "T1", "Treatment": "WD", "value": 4.3},
    {"kind": "pt", "Stage": "LS", "Timepoint": "T1", "Treatment": "WD", "value": 3.65},
    {"kind": "pt", "Stage": "LS", "Timepoint": "T1", "Treatment": "WD", "value": 3.15},
    {"kind": "pt", "Stage": "LS", "Timepoint": "T1", "Treatment": "WW", "value": 4.52},
    {"kind": "pt", "Stage": "LS", "Timepoint": "T1", "Treatment": "WW", "value": 4.31},
    {"kind": "pt", "Stage": "LS", "Timepoint": "T1", "Treatment": "WW", "value": 3.93},
    {"kind": "pt", "Stage": "LS", "Timepoint": "T1", "Treatment": "WW", "value": 3.68},
    {"kind": "pt", "Stage": "LS", "Timepoint": "T2", "Treatment": "WD", "value": 4.0},
    {"kind": "pt", "Stage": "LS", "Timepoint": "T2", "Treatment": "WD", "value": 3.88},
    {"kind": "pt", "Stage": "LS", "Timepoint": "T2", "Treatment": "WD", "value": 3.85},
    {"kind": "pt", "Stage": "LS", "Timepoint": "T2", "Treatment": "WD", "value": 3.65},
    {"kind": "pt", "Stage": "LS", "Timepoint": "T2", "Treatment": "WW", "value": 4.52},
    {"kind": "pt", "Stage": "LS", "Timepoint": "T2", "Treatment": "WW", "value": 4.47},
    {"kind": "pt", "Stage": "LS", "Timepoint": "T2", "Treatment": "WW", "value": 3.94},
    {"kind": "pt", "Stage": "LS", "Timepoint": "T2", "Treatment": "WW", "value": 3.57},
    {"kind": "pt", "Stage": "LS", "Timepoint": "T3", "Treatment": "WD", "value": 4.11},
    {"kind": "pt", "Stage": "LS", "Timepoint": "T3", "Treatment": "WD", "value": 3.9},
    {"kind": "pt", "Stage": "LS", "Timepoint": "T3", "Treatment": "WD", "value": 3.83},
    {"kind": "pt", "Stage": "LS", "Timepoint": "T3", "Treatment": "WD", "value": 3.77},
    {"kind": "pt", "Stage": "LS", "Timepoint": "T3", "Treatment": "WW", "value": 4.6},
    {"kind": "pt", "Stage": "LS", "Timepoint": "T3", "Treatment": "WW", "value": 4.5},
    {"kind": "pt", "Stage": "LS", "Timepoint": "T3", "Treatment": "WW", "value": 4.27},
    {"kind": "pt", "Stage": "LS", "Timepoint": "T3", "Treatment": "WW", "value": 3.68}
   ]},
   "facet": {"column": {"field": "Stage", "type": "nominal", "title": "Timepoint", "header": {"titleOrient": "bottom", "labelOrient": "top", "titlePadding": -11, "labelPadding": -3.5}}},
   "spacing": 4,
   "spec": {
    "width": 167, "height": 223,
    "encoding": {"x": {"field": "Timepoint", "type": "nominal", "scale": {"paddingInner": 0, "paddingOuter": 0.1}, "axis": {"title": null}}},
    "layer": [
     {"transform": [{"filter": "datum.kind == 'box'"}],
      "mark": {"type": "rule", "strokeWidth": 1, "opacity": 0.65},
      "encoding": {
       "xOffset": {"field": "Treatment", "type": "nominal", "scale": {"paddingInner": 0, "paddingOuter": 0.33}},
       "y": {"field": "lower", "type": "quantitative", "title": "Normalised expression D09G008150", "scale": {"domain": [2.86, 9.21], "nice": false, "zero": false}, "axis": {"labelOverlap": false, "tickCount": 100, "values": [3, 3.5, 4, 4.5, 5, 5.5, 6, 6.5, 7, 7.5, 8, 8.5, 9], "labelExpr": "datum.value % 1 === 0 ? format(datum.value, 'd') : ''", "gridColor": {"condition": {"test": "datum.value % 1 !== 0", "value": "#f4f4f4"}, "value": "#e8e8e8"}, "tickColor": {"condition": {"test": "datum.value % 1 !== 0", "value": "transparent"}, "value": "#333333"}}},
       "y2": {"field": "upper"},
       "stroke": {"field": "Treatment", "type": "nominal", "scale": {"domain": ["WD", "WW"], "range": ["#FFA500", "#87CEEB"]}}
      }},
     {"transform": [{"filter": "datum.kind == 'box'"}],
      "mark": {"type": "bar", "fillOpacity": 0.6, "strokeWidth": 1, "strokeOpacity": 0.85, "width": {"band": 0.93}},
      "encoding": {
       "xOffset": {"field": "Treatment", "type": "nominal"},
       "y": {"field": "q1", "type": "quantitative", "title": "Normalised expression D09G008150", "scale": {"domain": [2.86, 9.21], "nice": false, "zero": false}},
       "y2": {"field": "q3"},
       "fill": {"field": "Treatment", "type": "nominal", "scale": {"domain": ["WD", "WW"], "range": ["#FFA500", "#87CEEB"]}, "legend": {"title": "Treatment", "orient": "none", "legendX": 283, "legendY": 8, "symbolType": "square", "symbolSize": 100, "clipHeight": 10, "symbolStrokeWidth": 1.2, "rowPadding": 1}},
       "stroke": {"field": "Treatment", "type": "nominal", "legend": {"title": "Treatment", "orient": "none", "legendX": 283, "legendY": 8, "symbolType": "square", "symbolSize": 100, "clipHeight": 10, "symbolStrokeWidth": 1.2, "rowPadding": 1}}
      }},
     {"transform": [{"filter": "datum.kind == 'box'"}],
      "mark": {"type": "tick", "orient": "horizontal", "size": 13.5, "thickness": 1.4},
      "encoding": {
       "xOffset": {"field": "Treatment", "type": "nominal"},
       "y": {"field": "median", "type": "quantitative", "title": "Normalised expression D09G008150", "scale": {"domain": [2.86, 9.21], "nice": false, "zero": false}},
       "fill": {"field": "Treatment", "type": "nominal"}
      }},
     {"transform": [{"filter": "datum.kind == 'pt'"}],
      "mark": {"type": "circle", "size": 8, "opacity": 0.8},
      "encoding": {
       "xOffset": {"field": "Treatment", "type": "nominal"},
       "y": {"field": "value", "type": "quantitative", "title": "Normalised expression D09G008150", "scale": {"domain": [2.86, 9.21], "nice": false, "zero": false}},
       "fill": {"field": "Treatment", "type": "nominal"}
      }}
    ]
   }
  }]
 }
]
}
